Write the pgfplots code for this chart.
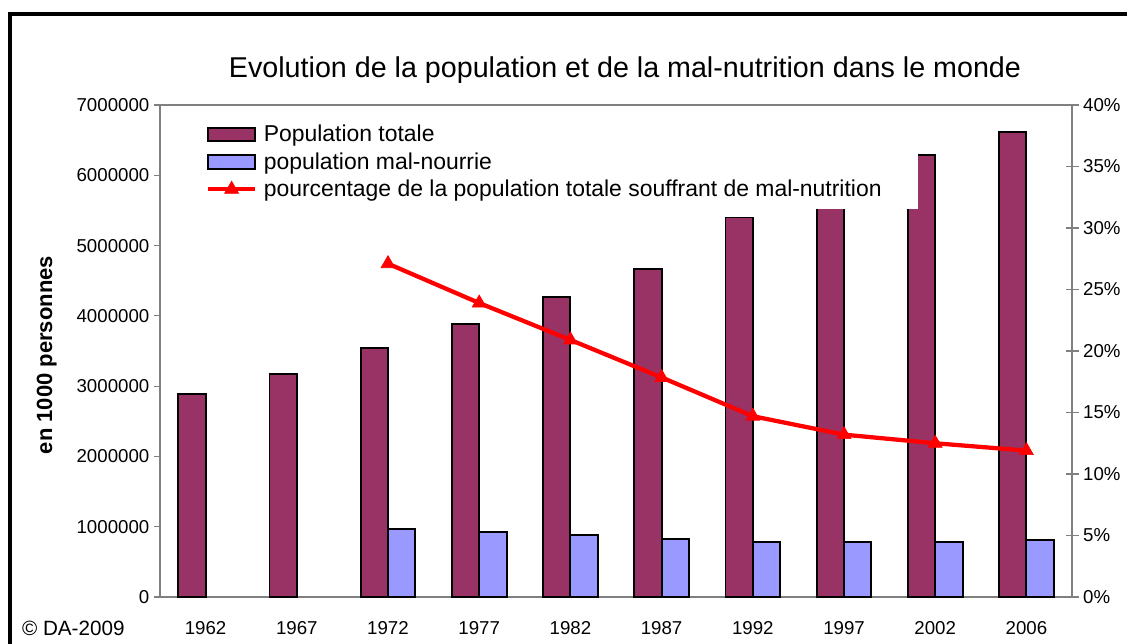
\documentclass[border=0pt]{standalone}
\usepackage{pgfplots}
\pgfplotsset{compat=1.18}
\usepackage{fontspec}
\setmainfont{Liberation Sans}
\definecolor{popc}{HTML}{993366}
\definecolor{malc}{HTML}{9999FF}
\definecolor{axc}{HTML}{808080}
\pgfplotsset{mylineleg/.style={legend image code/.code={\draw[##1, mark repeat=2, mark phase=2] plot coordinates {(0pt,0pt) (17.5pt,0pt) (35pt,0pt)};}}}
\begin{document}
\begin{tikzpicture}
\path[use as bounding box] (0,0) rectangle (845.25pt,482.25pt);
\draw[line width=3.2pt] (7.5pt,-10pt) -- (7.5pt,471.75pt) -- (860pt,471.75pt);
\begin{axis}[
  at={(120pt,34.5pt)}, anchor=south west,
  scale only axis, width=684pt, height=369pt,
  xmin=-0.5, xmax=9.5, ymin=0, ymax=7000000,
  ybar, bar width=0.3,
  axis line style={axc, line width=0.9pt},
  tick pos=left,
  ytick={0,1000000,2000000,3000000,4000000,5000000,6000000,7000000},
  scaled y ticks=false,
  yticklabel style={/pgf/number format/fixed, /pgf/number format/1000 sep={}},
  /pgf/number format/assume math mode=true,
  ticklabel style={font=\fontsize{14}{16}\selectfont},
  y tick style={axc, line width=0.9pt},
  ytick align=outside, major tick length=4.5pt,
  xtick={0,...,9},
  xticklabels={1962,1967,1972,1977,1982,1987,1992,1997,2002,2006},
  x tick style={draw=none},
  xticklabel style={yshift=-10pt},
  extra x ticks={-0.5,0.5,...,9.5},
  extra x tick labels={},
  extra x tick style={major tick length=9.75pt, tick align=center, tick style={axc, line width=0.9pt, draw=axc}},
]
\addplot[ybar, bar shift=-0.15, fill=popc, draw=black, line width=1.4pt] coordinates {
 (0,2888000) (1,3172000) (2,3538000) (3,3883000) (4,4263000)
 (5,4666000) (6,5400000) (7,5850000) (8,6290000) (9,6610000)};
\addplot[ybar, bar shift=0.15, fill=malc, draw=black, line width=1.4pt] coordinates {
 (2,963000) (3,929000) (4,882000) (5,830000) (6,780000)
 (7,780000) (8,780000) (9,806000)};
\end{axis}
\begin{axis}[
  at={(120pt,34.5pt)}, anchor=south west,
  scale only axis, width=684pt, height=369pt,
  xmin=-0.5, xmax=9.5, ymin=0, ymax=40,
  axis x line=none, axis y line*=right,
  axis line style={axc, line width=0.9pt},
  ytick={0,5,...,40},
  yticklabel={\pgfmathprintnumber{\tick}\%},
  /pgf/number format/assume math mode=true,
  ticklabel style={font=\fontsize{14}{16}\selectfont},
  y tick style={axc, line width=0.9pt},
  ytick align=center, major tick length=9.75pt,
  legend cell align=left,
  legend style={at={(rel axis cs:0.043,0.98)}, anchor=north west, draw=none, fill=white,
    font=\fontsize{17.2}{20}\selectfont, inner xsep=5pt, inner ysep=5.5pt, row sep=2.6pt,
    /tikz/every odd column/.append style={column sep=3pt}},
]
\addlegendimage{legend image code/.code={\draw[fill=popc, draw=black, line width=1.5pt] (0pt,-5pt) rectangle (35pt,5pt);}}
\addlegendentry{Population totale}
\addlegendimage{legend image code/.code={\draw[fill=malc, draw=black, line width=1.5pt] (0pt,-5pt) rectangle (35pt,5pt);}}
\addlegendentry{population mal-nourrie}
\addplot[red, line width=3.2pt, mark=triangle*, mark size=6pt, mark options={solid, line width=0.5pt, fill=red}, mylineleg]
 coordinates {(2,27.1) (3,23.9) (4,20.9) (5,17.85) (6,14.7) (7,13.2) (8,12.5) (9,11.9)};
\addlegendentry{pourcentage de la population totale souffrant de mal-nutrition\rule{20pt}{0pt}}
\end{axis}
\node[font=\fontsize{21.5}{24}\selectfont] at (468.75pt,429.75pt) {Evolution de la population et de la mal-nutrition dans le monde};
\node[rotate=90, font=\fontsize{16.5}{19}\selectfont\bfseries] at (35pt,216pt) {en 1000 personnes};
\node[font=\fontsize{15.5}{18}\selectfont] at (55pt,11pt) {© DA-2009};
\end{tikzpicture}
\end{document}
